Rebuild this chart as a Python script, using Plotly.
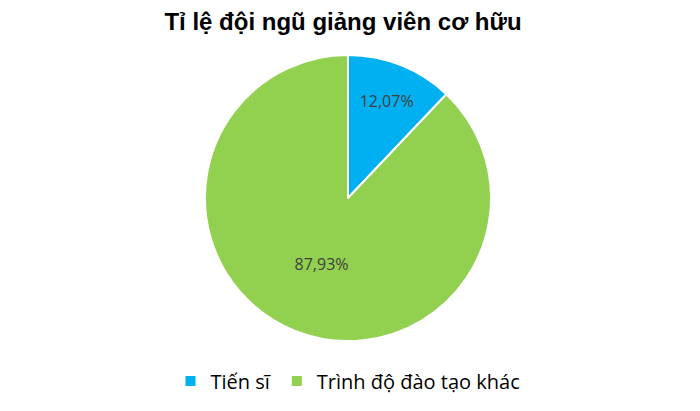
import plotly.graph_objects as go

# Data
labels = ["Tiến sĩ", "Trình độ đào tạo khác"]
values = [12.07, 87.93]
value_text = ["12,07%", "87,93%"]
colors = ["#00B0F0", "#92D050"]

W, H = 700, 411
off = 8  # page body margin shifts the figure by 8 px

# pie centre ~(348,198) on screen, radius ~143 px
cx, cy, r = 348 - off, 198 - off, 143

fig = go.Figure(go.Pie(
    labels=labels,
    values=values,
    text=value_text,
    texttemplate="%{text}",
    textposition="inside",
    insidetextorientation="horizontal",
    textfont=dict(family="Open Sans", size=16, color="#404040"),
    marker=dict(colors=colors, line=dict(color="white", width=2)),
    sort=False,
    direction="clockwise",
    rotation=0,
    hole=0,
    domain=dict(x=[(cx - r) / W, (cx + r) / W],
                y=[(H - cy - r) / H, (H - cy + r) / H]),
))

fig.update_layout(
    width=W, height=H,
    margin=dict(l=0, r=0, t=0, b=0),
    paper_bgcolor="white",
    plot_bgcolor="white",
    title=dict(text="<b>Tỉ lệ đội ngũ giảng viên cơ hữu</b>",
               x=(343 - off) / W, xanchor="center", y=1 - (22 - off) / H, yanchor="middle",
               font=dict(family="Liberation Sans", size=24, color="black")),
    legend=dict(orientation="h", x=(348 - off) / W, xanchor="center",
                y=1 - (381 - off) / H, yanchor="middle",
                font=dict(family="Open Sans", size=20, color="black"),
                itemwidth=30, traceorder="normal"),
    showlegend=True,
)

fig.write_html("out.html")
